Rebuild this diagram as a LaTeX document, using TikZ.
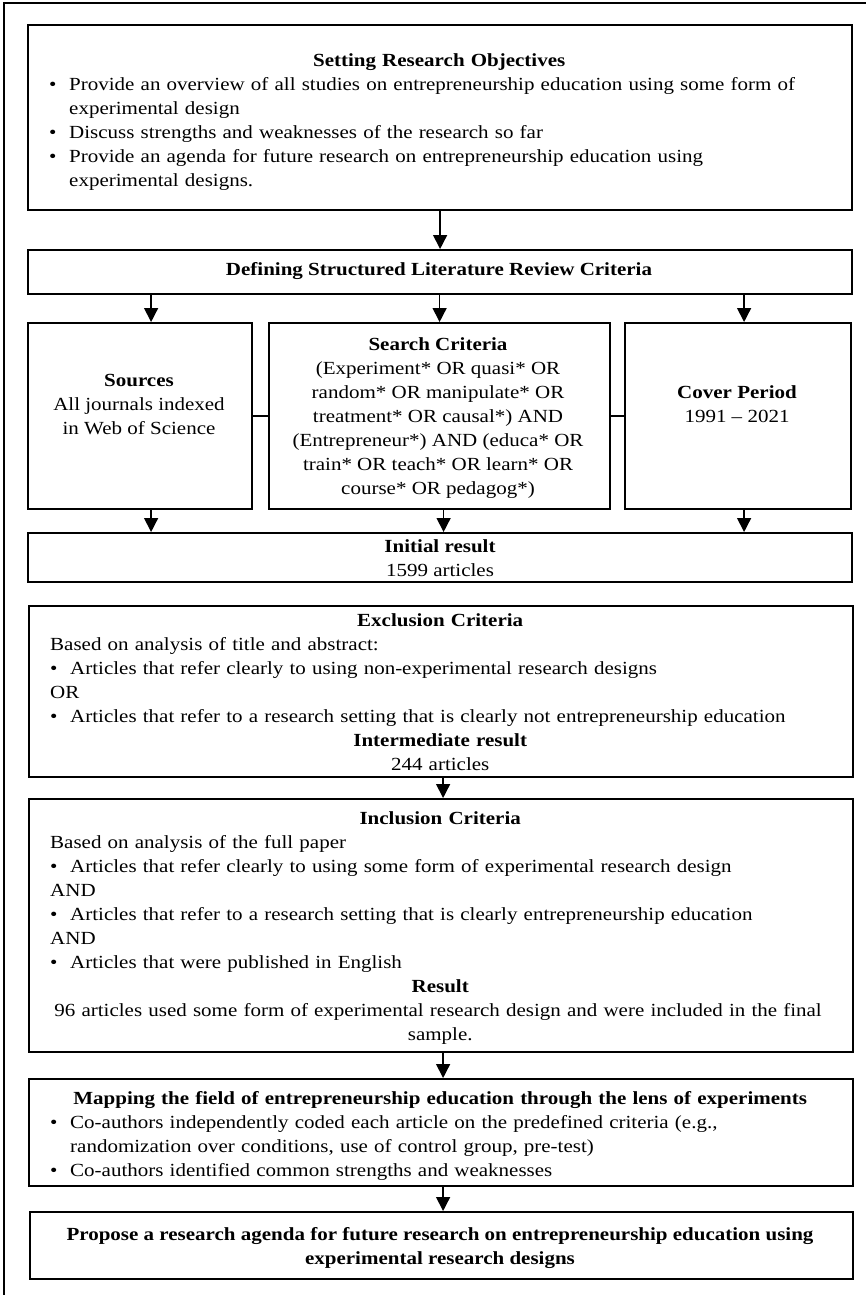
\documentclass[tikz,border=0pt]{standalone}
\usepackage{fontspec}
\setmainfont{Liberation Serif}[FakeStretch=1.135]
\usetikzlibrary{arrows.meta}
\newcommand\ctr[1]{\par{\centering #1\par}}
\newcommand\bul[1]{\par\noindent\hangindent=20pt\hangafter=1\makebox[20pt][l]{\textbullet}#1\par}
\newcommand\plainline[1]{\par\noindent #1\par}
\begin{document}
\begin{tikzpicture}[x=1pt,y=-1pt,
  box/.style={draw, line width=2.2pt, inner sep=0pt, anchor=north west},
  txt/.style={font=\fontsize{18.5}{24}\selectfont, inner sep=0pt},
  ltxt/.style={txt, align=left, text width=780pt, anchor=north west},
  ctxt/.style={txt, align=center, anchor=center},
  arr/.style={-{Triangle[length=14pt,width=14pt]}, line width=1.5pt},
  conn/.style={line width=1.5pt}]
\useasboundingbox (0,0) rectangle (866,1295);
\draw[line width=1.2pt] (4,1295) -- (4,3) -- (866,3);
% boxes
\node[box, minimum width=824pt, minimum height=185pt] (obj) at (27,24) {};
\node[box, minimum width=824pt, minimum height=44pt] (def) at (27,249) {};
\node[box, minimum width=224pt, minimum height=186pt] (src) at (27,322) {};
\node[box, minimum width=341pt, minimum height=186pt] (srch) at (268,322) {};
\node[box, minimum width=226pt, minimum height=186pt] (cov) at (624,322) {};
\node[box, minimum width=824pt, minimum height=49pt] (init) at (27,532) {};
\node[box, minimum width=824pt, minimum height=171pt] (excl) at (28,605) {};
\node[box, minimum width=824pt, minimum height=253pt] (incl) at (28,798) {};
\node[box, minimum width=824pt, minimum height=107pt] (map) at (28,1078) {};
\node[box, minimum width=823pt, minimum height=67pt] (prop) at (29,1211) {};
% texts
\node[ltxt] (objt) at (49,42) {%
\ctr{\textbf{Setting Research Objectives}}
\bul{Provide an overview of all studies on entrepreneurship education using some form of\newline experimental design}
\bul{Discuss strengths and weaknesses of the research so far}
\bul{Provide an agenda for future research on entrepreneurship education using\newline experimental designs.}};
\node[ctxt] (deft) at (439,271) {\textbf{Defining Structured Literature Review Criteria}};
\node[ctxt] (srct) at (139,405) {\textbf{Sources}\\All journals indexed\\in Web of Science};
\node[ctxt] (srcht) at (438,418) {\textbf{Search Criteria}\\(Experiment* OR quasi* OR\\random* OR manipulate* OR\\treatment* OR causal*) AND\\(Entrepreneur*) AND (educa* OR\\train* OR teach* OR learn* OR\\course* OR pedagog*)};
\node[ctxt] (covt) at (737,404) {\textbf{Cover Period}\\1991 -- 2021};
\node[ctxt] (initt) at (440,558) {\textbf{Initial result}\\1599 articles};
\node[ltxt] (exclt) at (50,602) {%
\ctr{\textbf{Exclusion Criteria}}
\plainline{Based on analysis of title and abstract:}
\bul{Articles that refer clearly to using non-experimental research designs}
\plainline{OR}
\bul{Articles that refer to a research setting that is clearly not entrepreneurship education}
\ctr{\textbf{Intermediate result}}
\ctr{244 articles}};
\node[ltxt] (inclt) at (50,800) {%
\ctr{\textbf{Inclusion Criteria}}
\plainline{Based on analysis of the full paper}
\bul{Articles that refer clearly to using some form of experimental research design}
\plainline{AND}
\bul{Articles that refer to a research setting that is clearly entrepreneurship education}
\plainline{AND}
\bul{Articles that were published in English}
\ctr{\textbf{Result}}
\ctr{96 articles used some form of experimental research design and were included in the final\newline sample.}};
\node[ltxt] (mapt) at (50,1080) {%
\ctr{\textbf{Mapping the field of entrepreneurship education through the lens of experiments}}
\bul{Co-authors independently coded each article on the predefined criteria (e.g.,\newline randomization over conditions, use of control group, pre-test)}
\bul{Co-authors identified common strengths and weaknesses}};
\node[ctxt] (propt) at (440,1248) {\textbf{Propose a research agenda for future research on entrepreneurship education using}\\\textbf{experimental research designs}};
% connectors
\draw[arr] (obj.south) -- (def.north);
\draw[arr] ([xshift=11pt]src.north |- def.south) -- ([xshift=11pt]src.north);
\draw[arr] (srch.north |- def.south) -- (srch.north);
\draw[arr] ([xshift=6pt]cov.north |- def.south) -- ([xshift=6pt]cov.north);
\draw[arr] ([xshift=11pt]src.south) -- ([xshift=11pt]src.south |- init.north);
\draw[arr] ([xshift=4pt]srch.south) -- ([xshift=4pt]srch.south |- init.north);
\draw[arr] ([xshift=6pt]cov.south) -- ([xshift=6pt]cov.south |- init.north);
\draw[conn] (src.east) -- (srch.west);
\draw[conn] (srch.east) -- (cov.west);
\draw[arr] ([xshift=2pt]excl.south) -- ([xshift=2pt]excl.south |- incl.north);
\draw[arr] ([xshift=2pt]incl.south) -- ([xshift=2pt]incl.south |- map.north);
\draw[arr] ([xshift=2pt]map.south) -- ([xshift=2pt]map.south |- prop.north);
\end{tikzpicture}
\end{document}
